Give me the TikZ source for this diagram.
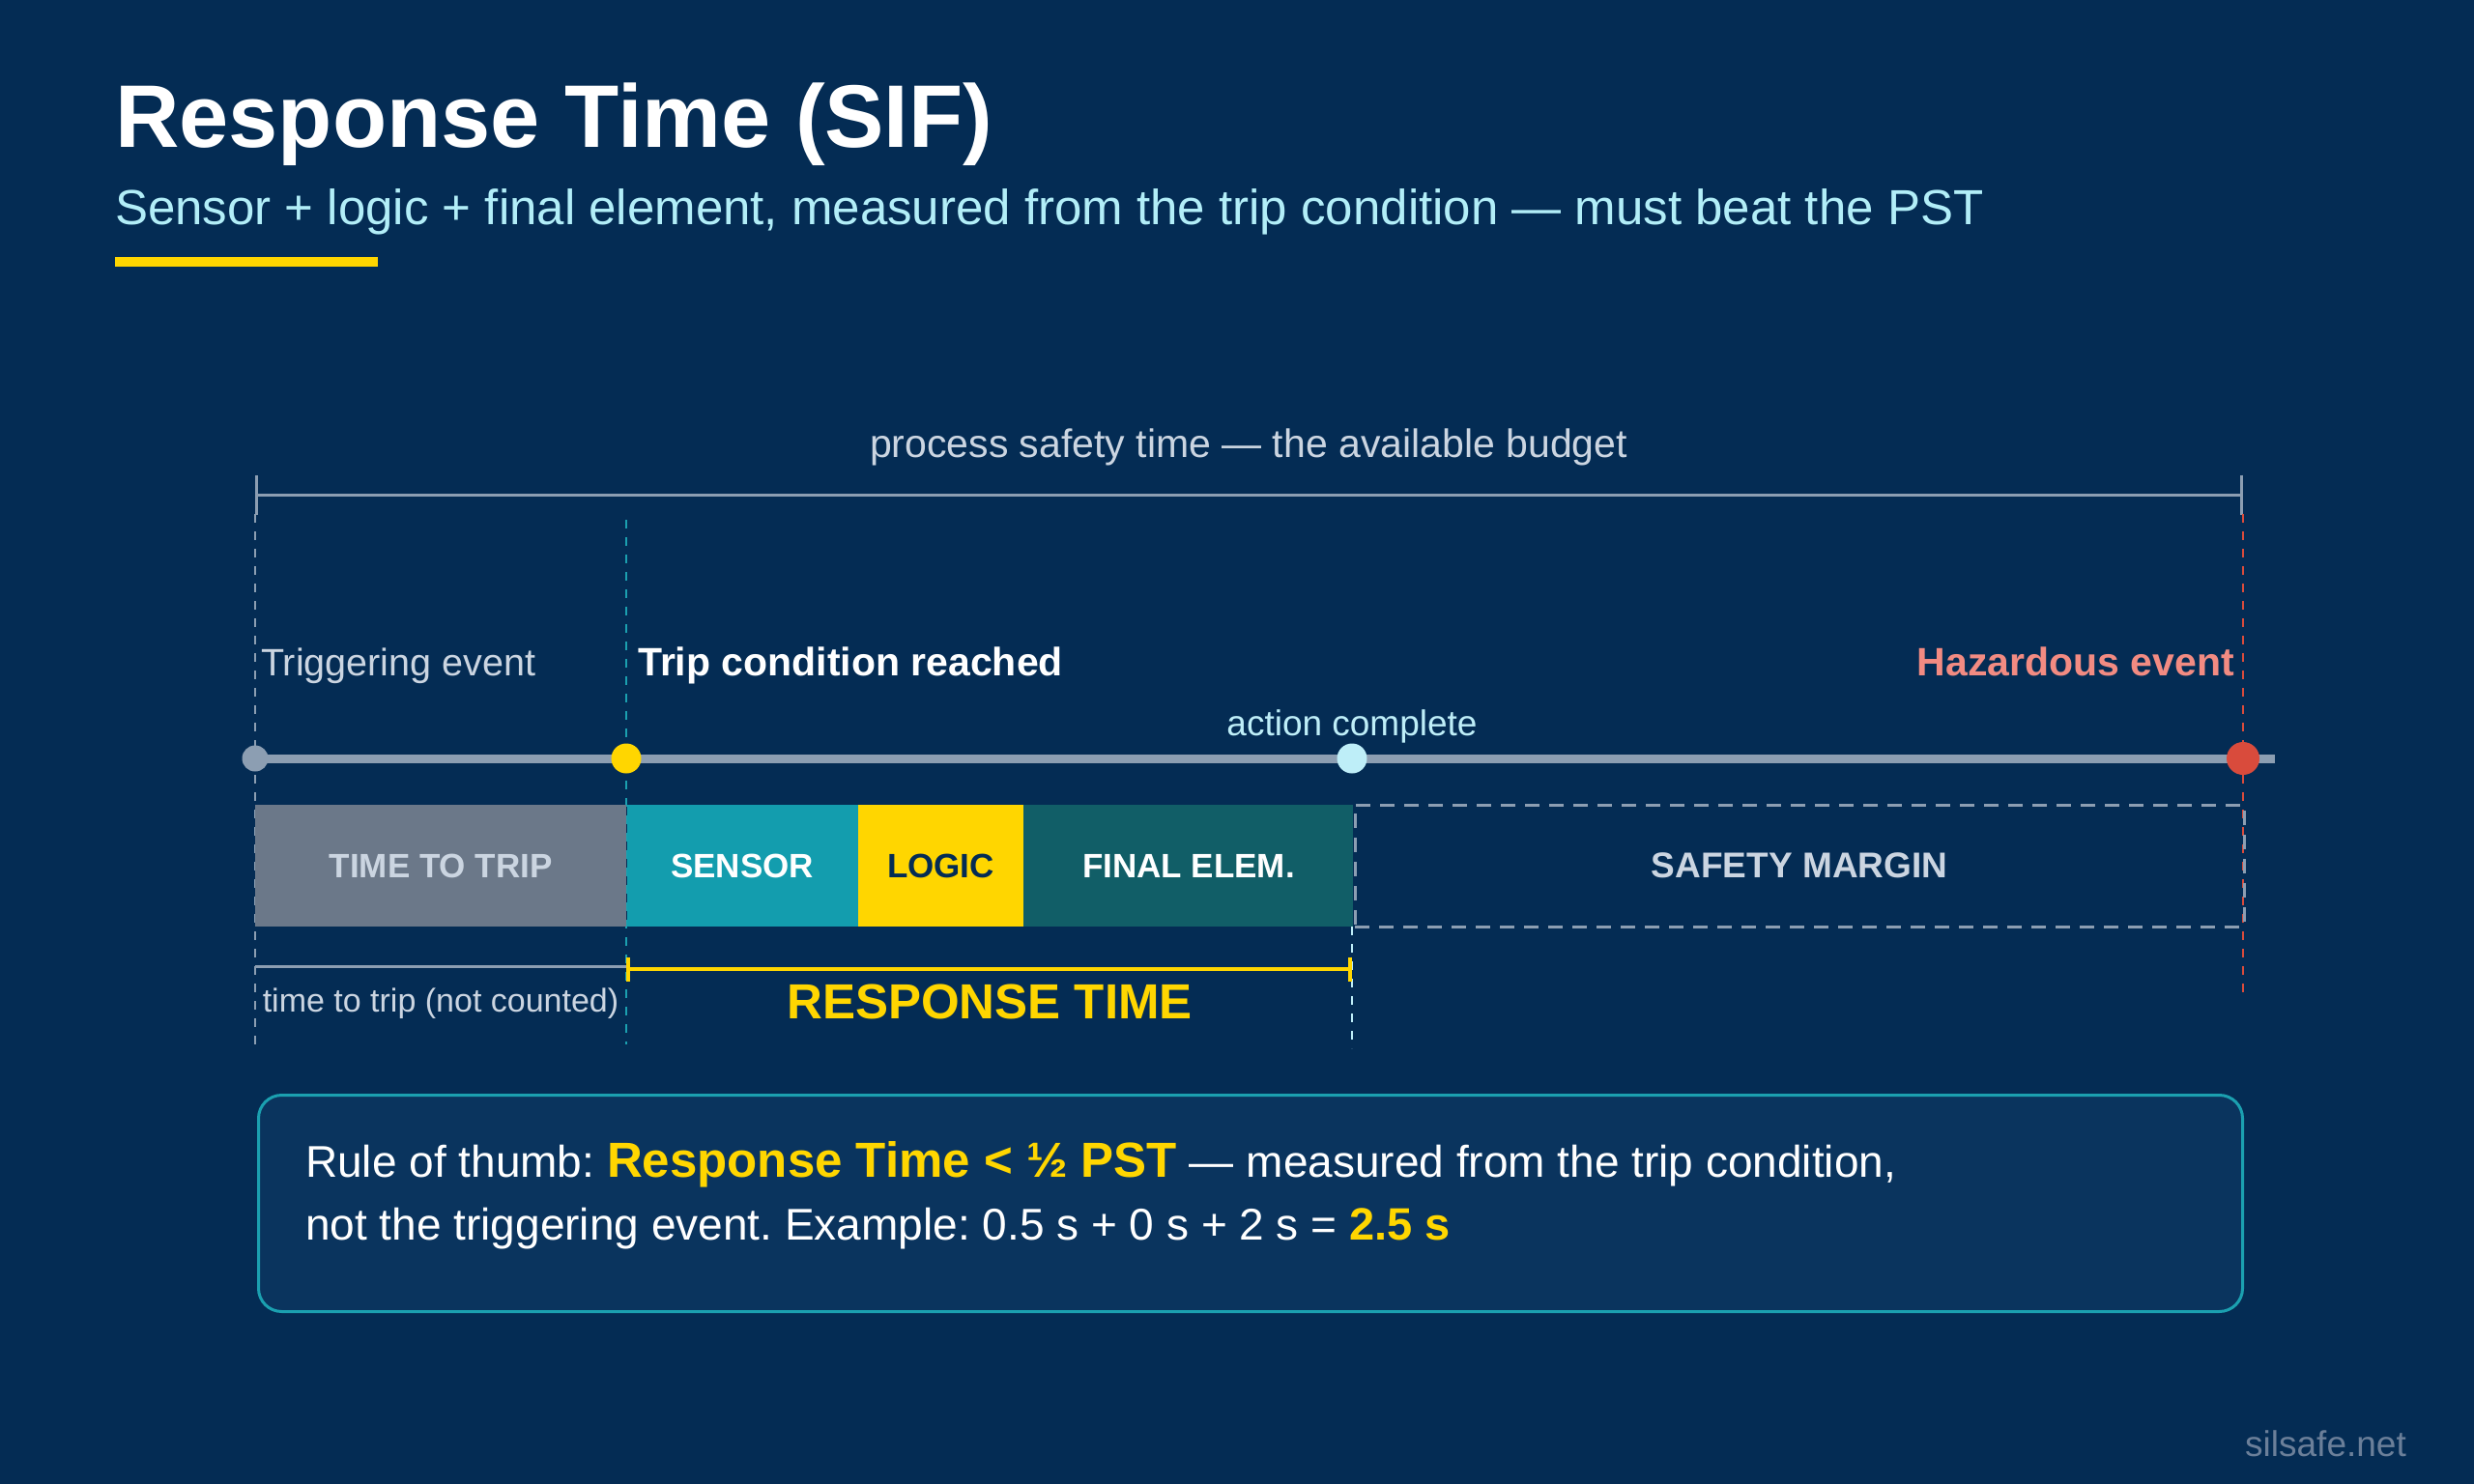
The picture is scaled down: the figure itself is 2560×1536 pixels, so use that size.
\documentclass[tikz,border=0pt]{standalone}
\usepackage{fontspec}
\setmainfont{Liberation Sans}
\usetikzlibrary{positioning,arrows.meta}
\definecolor{bgnavy}{RGB}{4,44,84}
\definecolor{boxnavy}{RGB}{10,52,94}
\definecolor{ylw}{RGB}{255,214,0}
\definecolor{subcyan}{RGB}{178,238,248}
\definecolor{softgray}{RGB}{203,213,225}
\definecolor{linegray}{RGB}{140,158,178}
\definecolor{ttgray}{RGB}{107,120,137}
\definecolor{sensteal}{RGB}{19,157,174}
\definecolor{finteal}{RGB}{17,94,103}
\definecolor{guideteal}{RGB}{27,160,176}
\definecolor{hazred}{RGB}{217,75,60}
\definecolor{hazpink}{RGB}{242,139,130}
\definecolor{donecyan}{RGB}{190,238,248}
\definecolor{markgray}{RGB}{107,127,153}
\newcommand{\fsz}[1]{\fontsize{#1}{#1}\selectfont}
\frenchspacing

\begin{document}
\begin{tikzpicture}[x=1pt,y=-1pt,
  lbl/.style={inner sep=0pt,anchor=base west},
  seg/.style={inner sep=0pt,minimum height=126pt,anchor=west,font=\fsz{35}\bfseries},
  dot/.style={circle,inner sep=0pt},
  guide/.style={line width=2.5pt,dash pattern=on 9pt off 9pt}]
\fill[bgnavy] (0,0) rectangle (2560,1536);
\node[lbl,text=white,font=\fsz{92}\bfseries] (title) at (119,153) {Response Time (SIF)};
\node[lbl,text=subcyan,font=\fsz{51}] (subtitle) at (119,232) {Sensor + logic + final element, measured from the trip condition — must beat the PST};
\fill[ylw] (119,266) rectangle (391,276);
\node[inner sep=0pt,anchor=base,text=softgray,font=\fsz{41}] (pstlabel) at (1292,473) {process safety time — the available budget};
\coordinate (pst0) at (264,512);
\coordinate (pst1) at (2321,512);
\draw[linegray,line width=3pt,{Bar[width=41pt]}-{Bar[width=41pt]}] (pst0) -- (pst1);
\coordinate (g0top) at (264,532);
\coordinate (g0bot) at (264,1081);
\coordinate (g1top) at (648,538);
\coordinate (g1bot) at (648,1081);
\coordinate (g2top) at (2321,532);
\coordinate (g2bot) at (2321,1034);
\coordinate (g3top) at (1399,959);
\coordinate (g3bot) at (1399,1085);
\draw[guide,linegray] (g0top) -- (g0bot);
\draw[guide,guideteal] (g1top) -- (g1bot);
\draw[guide,hazred] (g2top) -- (g2bot);
\draw[guide,donecyan] (g3top) -- (g3bot);
\node[lbl,text=softgray,font=\fsz{39.5}] (trigtext) at (270,699) {Triggering event};
\node[lbl,text=white,font=\fsz{41}\bfseries] (triptext) at (660,699) {Trip condition reached};
\node[inner sep=0pt,anchor=base east,text=hazpink,font=\fsz{41}\bfseries] (hazText) at (2312,699) {Hazardous event};
\node[inner sep=0pt,anchor=base,text=donecyan,font=\fsz{37}] (donetext) at (1399,761) {action complete};
\coordinate (tl0) at (264,785);
\coordinate (tl1) at (2354,785);
\draw[linegray,line width=9pt] (tl0) -- (tl1);
\node[dot,fill=linegray,minimum size=27pt] (trig) at (264,785) {};
\node[dot,fill=ylw,minimum size=31pt] (trip) at (648,785) {};
\node[dot,fill=donecyan,minimum size=31pt] (done) at (1399,785) {};
\node[dot,fill=hazred,minimum size=34pt] (haz) at (2321,785) {};
\node[seg,fill=ttgray,text=softgray,minimum width=384pt] (ttt) at (264,896) {TIME TO TRIP};
\node[seg,fill=sensteal,text=white,minimum width=239pt,right=0pt of ttt] (sensor) {SENSOR};
\node[seg,fill=ylw,text=bgnavy,minimum width=171pt,right=0pt of sensor] (logic) {LOGIC};
\node[seg,fill=finteal,text=white,minimum width=341pt,right=0pt of logic] (final) {FINAL ELEM.};
\node[seg,draw=linegray,line width=3pt,dash pattern=on 15pt off 10pt,text=softgray,font=\fsz{37}\bfseries,minimum width=920pt,right=0pt of final] (margin) {SAFETY MARGIN};
\coordinate (tt0) at (264,1000);
\coordinate (tt1) at (648,1000);
\draw[linegray,line width=3pt] (tt0) -- (tt1);
\node[inner sep=0pt,anchor=base,text=softgray,font=\fsz{34}] (tttext) at (456,1047) {time to trip (not counted)};
\coordinate (rt0) at (648,1003);
\coordinate (rt1) at (1399,1003);
\draw[ylw,line width=4pt,{Bar[width=25pt]}-{Bar[width=25pt]}] (rt0) -- (rt1);
\node[inner sep=0pt,anchor=base,text=ylw,font=\fsz{51}\bfseries] (rttext) at (1024,1054) {RESPONSE TIME};
\node[draw=guideteal,fill=boxnavy,line width=3pt,rounded corners=24pt,minimum width=2053pt,minimum height=224pt,anchor=north west] (rulebox) at (266,1132) {};
\node[lbl,text=white,font=\fsz{46}] (rule1) at (316,1218) {Rule of thumb: \textcolor{ylw}{\fsz{51}\bfseries Response Time < ½ PST} — measured from the trip condition,};
\node[lbl,text=white,font=\fsz{46}] (rule2) at (316,1283) {not the triggering event. Example: 0.5 s + 0 s + 2 s = \textcolor{ylw}{\fsz{47}\bfseries 2.5 s}};
\node[lbl,text=markgray,font=\fsz{37}] (mark) at (2323,1507) {silsafe.net};
\end{tikzpicture}
\end{document}
